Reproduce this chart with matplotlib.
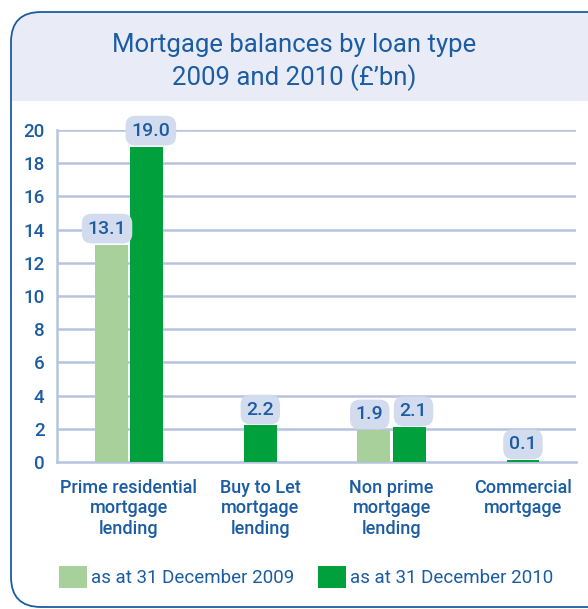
import matplotlib
matplotlib.use("Agg")
import matplotlib.pyplot as plt
import numpy as np
from matplotlib.patches import FancyBboxPatch, Rectangle, Patch

# ---- data ----
categories = ["Prime residential\nmortgage\nlending", "Buy to Let\nmortgage\nlending",
              "Non prime\nmortgage\nlending", "Commercial\nmortgage"]
values_2009 = [13.1, None, 1.9, None]
values_2010 = [19.0, 2.2, 2.1, 0.1]
series_labels = ["as at 31 December 2009", "as at 31 December 2010"]
yticks = [0, 2, 4, 6, 8, 10, 12, 14, 16, 18, 20]
title = "Mortgage balances by loan type\n2009 and 2010 (£\u2019bn)"

# ---- style ----
BLUE = "#1b5ca3"
GRID = "#b7c2df"
HEADER = "#e9ecf6"
BOXFILL = "#d3dbef"
LIGHT_GREEN = "#a8d09a"
DARK_GREEN = "#00a03c"
FONT = ["Roboto", "DejaVu Sans"]
plt.rcParams["font.family"] = FONT

W, H = 588, 609
fig = plt.figure(figsize=(W / 100, H / 100), dpi=100)
fig.patch.set_facecolor("white")

def px(x, y):
    return (x / 100, (H - y) / 100)

# frame
fx0, fy0, fx1, fy1 = 11, 12, 620, 607
r = 0.30
frame = FancyBboxPatch(px(fx0, fy1), (fx1 - fx0) / 100, (fy1 - fy0) / 100,
                       boxstyle=f"round,pad=0,rounding_size={r}",
                       transform=fig.dpi_scale_trans, facecolor="white",
                       edgecolor="none", zorder=0)
fig.patches.append(frame)
header = Rectangle(px(0, 101), W / 100, (101 - 0) / 100, transform=fig.dpi_scale_trans,
                   facecolor=HEADER, edgecolor="none", zorder=0.5)
fig.patches.append(header)
header.set_clip_path(frame)
outline = FancyBboxPatch(px(fx0, fy1), (fx1 - fx0) / 100, (fy1 - fy0) / 100,
                         boxstyle=f"round,pad=0,rounding_size={r}",
                         transform=fig.dpi_scale_trans, facecolor="none",
                         edgecolor=BLUE, linewidth=1.3, zorder=1)
fig.patches.append(outline)

fig.text(0.5, 1 - 62 / H, title, ha="center", va="center", fontsize=18.5,
         color=BLUE, linespacing=1.32, family=FONT, fontweight="normal")

# axes
ax = fig.add_axes([57 / W, 1 - 462 / H, (576 - 57) / W, (462 - 130) / H])
ax.set_facecolor("none")
ax.set_zorder(2)
x = np.arange(len(categories))
bw = 0.25
off = 0.135
xl = (-0.548, 3.404)
ax.set_xlim(*xl)
ax.set_ylim(0, 20)

for t in yticks[1:]:
    ax.axhline(t, color=GRID, linewidth=1.8, zorder=0)

def label(xc, v, dx):
    ax.annotate(f"{v:.1f}", (xc, v), xytext=(dx, 11.5), textcoords="offset points",
                ha="center", va="center", fontsize=14, color=BLUE,
                fontweight="medium", annotation_clip=False,
                bbox=dict(boxstyle="round,pad=0.3,rounding_size=0.5",
                          facecolor=BOXFILL, edgecolor="none"), zorder=4)

for i, (a, b) in enumerate(zip(values_2009, values_2010)):
    if a is not None and b is not None:
        ax.bar(x[i] - off, a, bw, color=LIGHT_GREEN, zorder=2)
        ax.bar(x[i] + off, b, bw, color=DARK_GREEN, zorder=2)
        label(x[i] - off, a, -3)
        label(x[i] + off, b, 3)
    elif b is not None:
        ax.bar(x[i], b, bw, color=DARK_GREEN, zorder=2)
        label(x[i], b, 0)
    elif a is not None:
        ax.bar(x[i], a, bw, color=LIGHT_GREEN, zorder=2)
        label(x[i], a, 0)

for s in ["top", "right"]:
    ax.spines[s].set_visible(False)
for s in ["left", "bottom"]:
    ax.spines[s].set_color(GRID)
    ax.spines[s].set_linewidth(1.8)
    ax.spines[s].set_zorder(1)

ax.set_yticks(yticks)
ax.set_yticklabels([str(t) for t in yticks])
ax.set_xticks(x)
ax.set_xticklabels(categories)
ax.tick_params(axis="y", length=0, pad=9, labelsize=13.5, labelcolor=BLUE)
ax.tick_params(axis="x", length=0, pad=12, labelsize=13, labelcolor=BLUE)
for lab in ax.get_yticklabels() + ax.get_xticklabels():
    lab.set_fontweight("medium")
for lab in ax.get_xticklabels():
    lab.set_linespacing(1.2)

handles = [Patch(facecolor=LIGHT_GREEN, edgecolor="none"),
           Patch(facecolor=DARK_GREEN, edgecolor="none")]
leg = fig.legend(handles, series_labels, loc="center", bbox_to_anchor=(306 / W, 1 - 577 / H),
                 ncol=2, frameon=False, fontsize=13.5, handlelength=1.5, handleheight=1.5,
                 handletextpad=0.2, columnspacing=1.3, borderpad=0)
for t in leg.get_texts():
    t.set_color(BLUE)

fig.savefig("out.png", dpi=100)
